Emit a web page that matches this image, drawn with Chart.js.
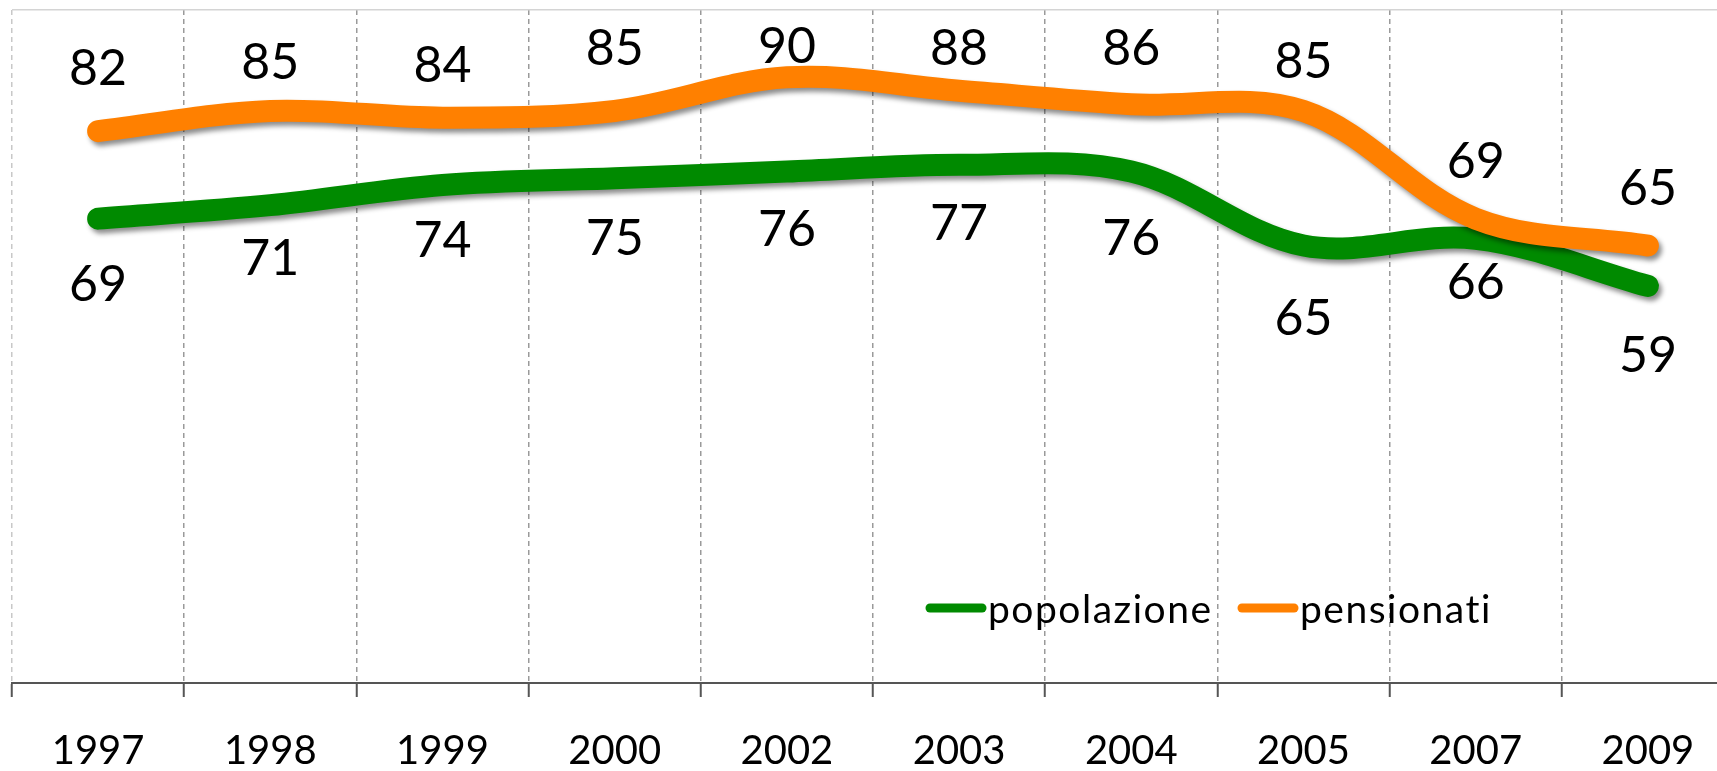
<!DOCTYPE html>
<html lang="it">
<head>
    <meta charset="UTF-8">
    <title>popolazione e pensionati</title>
    <script src="https://cdn.jsdelivr.net/npm/chart.js"></script>
    <style>
        html, body {
            margin: 0;
            padding: 0;
            background: #ffffff;
            overflow: hidden;
            width: 1717px;
            height: 771px;
        }
        /* a bit wider and taller than the window: the right end and the bottom are cut off */
        .chart-wrap {
            position: relative;
            width: 1740px;
            height: 805px;
        }
    </style>
</head>
<body>
    <div class="chart-wrap">
        <canvas id="lineChart"></canvas>
    </div>

    <script>
        // data
        const anni = ['1997', '1998', '1999', '2000', '2002', '2003', '2004', '2005', '2007', '2009'];
        const popolazione = [69, 71, 74, 75, 76, 77, 76, 65, 66, 59];
        const pensionati = [82, 85, 84, 85, 90, 88, 86, 85, 69, 65];

        // label placement (px from the point, + is down)
        const offsetPopolazione = [66, 54, 56, 61, 58, 59, 67, 73, 44, 70];
        const offsetPensionati = [-62, -48, -52, -62, -30, -42, -55, -49, -57, -57];

        const verde = 'rgb(0, 138, 0)';
        const arancio = 'rgb(255, 128, 0)';
        const font = "Lato, 'Open Sans', sans-serif";

        // soft drop shadow under the thick lines
        const shadowPlugin = {
            id: 'shadow',
            beforeDatasetDraw(chart) {
                const ctx = chart.ctx;
                ctx.save();
                ctx.shadowColor = 'rgba(0, 0, 0, 0.45)';
                ctx.shadowBlur = 5;
                ctx.shadowOffsetX = 3;
                ctx.shadowOffsetY = 4;
            },
            afterDatasetDraw(chart) {
                chart.ctx.restore();
            }
        };

        // value labels + legend inside the plot
        const labelPlugin = {
            id: 'labels',
            afterDatasetsDraw(chart) {
                const ctx = chart.ctx;
                const offsets = [offsetPopolazione, offsetPensionati];
                ctx.save();
                ctx.fillStyle = '#000';
                ctx.font = '50px ' + font;
                ctx.textAlign = 'center';
                ctx.textBaseline = 'middle';
                chart.data.datasets.forEach((ds, i) => {
                    const meta = chart.getDatasetMeta(i);
                    meta.data.forEach((pt, j) => {
                        ctx.fillText(String(ds.data[j]), pt.x, pt.y + offsets[i][j]);
                    });
                });

                // legend
                const area = chart.chartArea;
                const ly = area.bottom - 75;
                let lx = area.left + 914;
                ctx.font = '39px ' + font;
                ctx.letterSpacing = '1.5px';
                ctx.textAlign = 'left';
                chart.data.datasets.forEach(ds => {
                    ctx.strokeStyle = ds.borderColor;
                    ctx.lineWidth = 9;
                    ctx.lineCap = 'round';
                    ctx.beginPath();
                    ctx.moveTo(lx + 4, ly);
                    ctx.lineTo(lx + 56, ly);
                    ctx.stroke();
                    ctx.fillText(ds.label, lx + 62, ly + 2);
                    lx += 312;
                });
                ctx.restore();
            }
        };

        new Chart(document.getElementById('lineChart'), {
            type: 'line',
            data: {
                labels: anni,
                datasets: [
                    {
                        label: 'popolazione',
                        data: popolazione,
                        borderColor: verde,
                        backgroundColor: verde,
                        order: 1
                    },
                    {
                        label: 'pensionati',
                        data: pensionati,
                        borderColor: arancio,
                        backgroundColor: arancio,
                        order: 0
                    }
                ]
            },
            options: {
                responsive: true,
                maintainAspectRatio: false,
                animation: false,
                layout: {
                    padding: { left: 12, right: 6, top: 10, bottom: 0 }
                },
                elements: {
                    line: {
                        borderWidth: 22,
                        tension: 0.35,
                        borderCapStyle: 'round',
                        borderJoinStyle: 'round'
                    },
                    point: { radius: 0, hoverRadius: 0 }
                },
                plugins: {
                    legend: { display: false },
                    tooltip: { enabled: false }
                },
                scales: {
                    x: {
                        offset: true,
                        grid: {
                            offset: true,
                            color: ctx => ctx.index === 0 ? '#c8c8c8' : '#9a9a9a',
                            lineWidth: 1.5,
                            tickColor: '#555',
                            tickWidth: 2,
                            tickLength: 14
                        },
                        border: {
                            display: true,
                            color: '#555',
                            width: 2,
                            dash: [5, 4]
                        },
                        ticks: {
                            color: '#000',
                            padding: 34,
                            font: { family: font, size: 40, lineHeight: 1 }
                        }
                    },
                    y: {
                        min: 0,
                        max: 100,
                        ticks: { display: false, stepSize: 100 },
                        border: { display: false },
                        grid: {
                            drawTicks: false,
                            color: ctx => ctx.tick.value === 100 ? '#d4d4d4' : 'transparent',
                            lineWidth: 1.5
                        }
                    }
                }
            },
            plugins: [shadowPlugin, labelPlugin]
        });
    </script>
</body>
</html>
